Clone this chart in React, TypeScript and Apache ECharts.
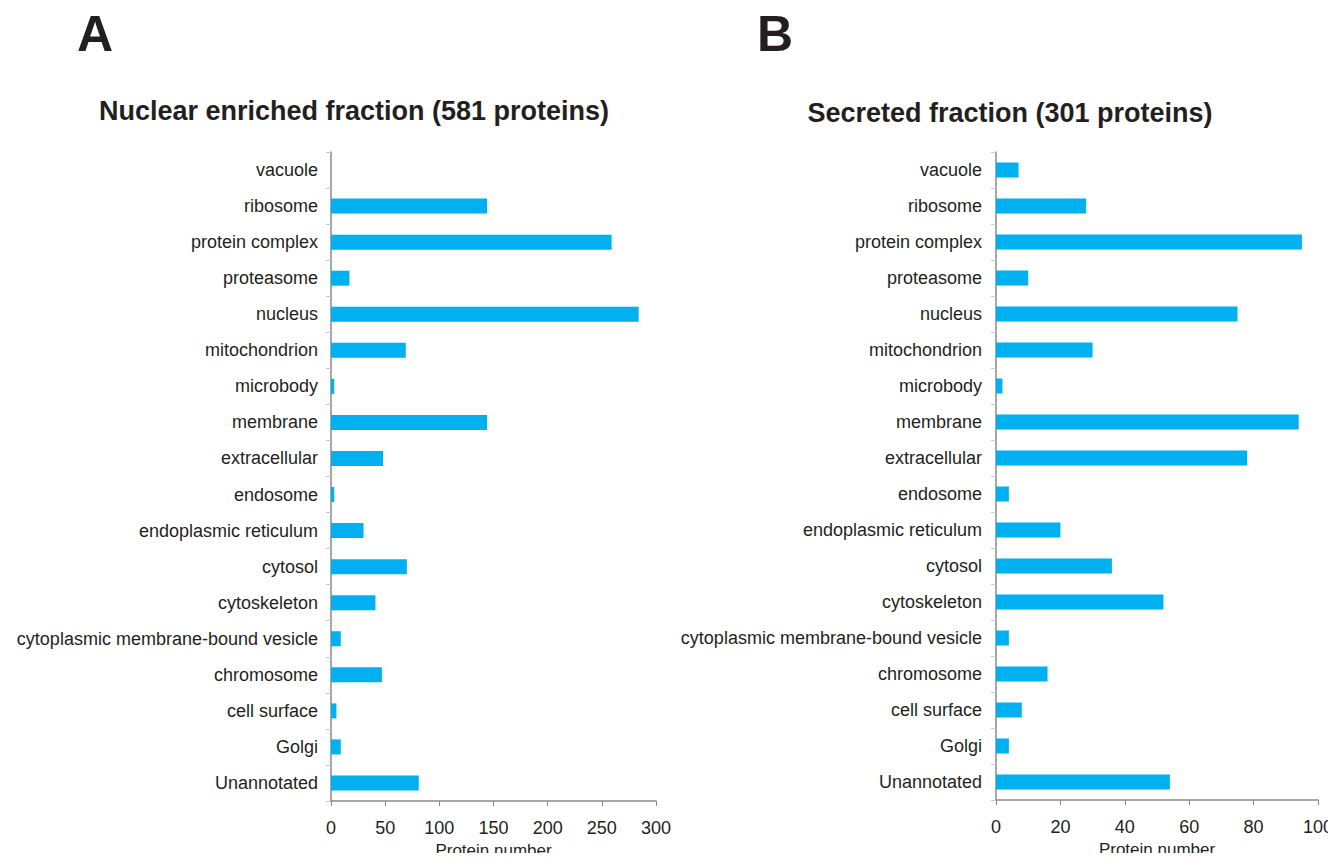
import React, { useEffect, useRef } from "react";
import * as echarts from "echarts";

const categories = [
  "vacuole",
  "ribosome",
  "protein complex",
  "proteasome",
  "nucleus",
  "mitochondrion",
  "microbody",
  "membrane",
  "extracellular",
  "endosome",
  "endoplasmic reticulum",
  "cytosol",
  "cytoskeleton",
  "cytoplasmic membrane-bound vesicle",
  "chromosome",
  "cell surface",
  "Golgi",
  "Unannotated",
];

const nuclearValues = [0, 144, 259, 17, 284, 69, 3, 144, 48, 3, 30, 70, 41, 9, 47, 5, 9, 81];
const secretedValues = [7, 28, 95, 10, 75, 30, 2, 94, 78, 4, 20, 36, 52, 4, 16, 8, 4, 54];

const panelLabels = ["A", "B"];
const panelTitles = ["Nuclear enriched fraction (581 proteins)", "Secreted fraction (301 proteins)"];
const xAxisName = "Protein number";

const FONT = "Liberation Sans, Arial, Helvetica, sans-serif";
const BAR = "#00B0F0";
const TEXT = "#231F20";

export default function App() {
  const ref = useRef<HTMLDivElement>(null);

  useEffect(() => {
    if (!ref.current) return;
    const chart = echarts.init(ref.current, undefined, { renderer: "svg" });

    const yAxisBase = (gridIndex: number, margin: number) => ({
      type: "category" as const,
      gridIndex,
      data: categories,
      inverse: true,
      axisLine: { show: true, lineStyle: { color: "#8a8a8a", width: 1.5 } },
      axisTick: { show: true, inside: false, length: 5, lineStyle: { color: "#c8c8c8" } },
      axisLabel: { color: TEXT, fontSize: 18, fontFamily: FONT, margin },
      splitLine: { show: false },
    });

    const xAxisBase = (gridIndex: number, max: number, interval: number) => ({
      type: "value" as const,
      gridIndex,
      min: 0,
      max,
      interval,
      name: xAxisName,
      nameLocation: "middle" as const,
      nameGap: 41,
      nameTextStyle: { color: TEXT, fontSize: 17, fontFamily: FONT },
      axisLine: { show: true, lineStyle: { color: "#8a8a8a", width: 1.5 } },
      axisTick: { show: true, inside: false, length: 5, lineStyle: { color: "#8a8a8a" } },
      axisLabel: { color: TEXT, fontSize: 18, fontFamily: FONT, margin: 18 },
      splitLine: { show: false },
    });

    chart.setOption({
      animation: false,
      backgroundColor: "#ffffff",
      title: [
        {
          text: panelLabels[0],
          left: 72,
          top: 4,
          textStyle: { fontSize: 50, fontWeight: "bold", color: TEXT, fontFamily: FONT },
        },
        {
          text: panelLabels[1],
          left: 752,
          top: 4,
          textStyle: { fontSize: 50, fontWeight: "bold", color: TEXT, fontFamily: FONT },
        },
        {
          text: panelTitles[0],
          left: 349,
          top: 92,
          textAlign: "center",
          textStyle: { fontSize: 27, fontWeight: "bold", color: TEXT, fontFamily: FONT },
        },
        {
          text: panelTitles[1],
          left: 1005,
          top: 94,
          textAlign: "center",
          textStyle: { fontSize: 27, fontWeight: "bold", color: TEXT, fontFamily: FONT },
        },
      ],
      grid: [
        { left: 331, top: 152, width: 325, height: 649, containLabel: false, outerBoundsMode: "none" },
        { left: 996, top: 152, width: 322, height: 648, containLabel: false, outerBoundsMode: "none" },
      ],
      xAxis: [xAxisBase(0, 300, 50), xAxisBase(1, 100, 20)],
      yAxis: [yAxisBase(0, 13), yAxisBase(1, 14)],
      series: [
        {
          type: "bar",
          xAxisIndex: 0,
          yAxisIndex: 0,
          data: nuclearValues,
          barWidth: 15,
          itemStyle: { color: BAR },
        },
        {
          type: "bar",
          xAxisIndex: 1,
          yAxisIndex: 1,
          data: secretedValues,
          barWidth: 15,
          itemStyle: { color: BAR },
        },
      ],
    });

    return () => chart.dispose();
  }, []);

  return <div ref={ref} style={{ width: 1336, height: 861, margin: -8 }} />;
}
